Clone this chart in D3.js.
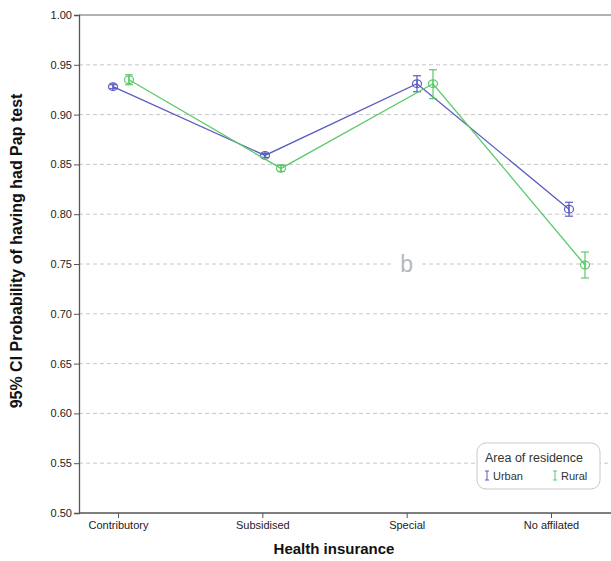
<!DOCTYPE html>
<html><head><meta charset="utf-8">
<script src="https://cdn.jsdelivr.net/npm/d3@7"></script>
<style>body{margin:0;background:#fff}svg{display:block}text{font-family:Arial,"Liberation Sans",sans-serif}</style>
</head><body>
<svg id="c" width="611" height="561"></svg>
<script>
const categories = ["Contributory", "Subsidised", "Special", "No affilated"];
const seriesNames = ["Urban", "Rural"];
const urbanMean = [0.928, 0.859, 0.931, 0.805];
const urbanLow  = [0.926, 0.857, 0.923, 0.798];
const urbanHigh = [0.930, 0.861, 0.939, 0.812];
const ruralMean = [0.935, 0.846, 0.931, 0.749];
const ruralLow  = [0.930, 0.843, 0.916, 0.736];
const ruralHigh = [0.940, 0.849, 0.945, 0.762];
const yTicks = [0.50, 0.55, 0.60, 0.65, 0.70, 0.75, 0.80, 0.85, 0.90, 0.95, 1.00];
const colors = {Urban: "#5a5cbf", Rural: "#5cc96a"};

const svg = d3.select("#c");
const L = 79, R = 611, T = 15, B = 513;
const y = d3.scaleLinear().domain([0.5, 1.0]).range([B, T]);
const xTick = d3.scalePoint().domain(categories).range([118, 551]);
const xPt = d3.scalePoint().domain(categories).range([121, 577]);
const offs = {Urban: -8, Rural: 8};

// gridlines
svg.append("g").selectAll("line").data(yTicks.filter(v => v > 0.5 && v < 1)).join("line")
  .attr("x1", L).attr("x2", R).attr("y1", d => y(d)).attr("y2", d => y(d))
  .attr("stroke", "#c8c8c8").attr("stroke-dasharray", "4,3").attr("stroke-width", 1);

// 'b' label
const bx = xTick("Special"), by = y(0.75);
svg.append("rect").attr("x", bx - 12).attr("y", by - 12).attr("width", 24).attr("height", 24).attr("fill", "#fff");
svg.append("text").attr("x", bx).attr("y", by + 8).attr("text-anchor", "middle")
  .attr("font-size", 23).attr("fill", "#b8b8b8").text("b");

// top border
svg.append("line").attr("x1", L).attr("x2", R).attr("y1", T).attr("y2", T).attr("stroke", "#666").attr("stroke-width", 1.2);

// axes
const yAxis = d3.axisLeft(y).tickValues(yTicks).tickFormat(d3.format(".2f")).tickSize(5).tickPadding(2);
const gy = svg.append("g").attr("transform", `translate(${L},0)`).call(yAxis);
const xAxis = d3.axisBottom(xTick).tickSize(5).tickPadding(3);
const gx = svg.append("g").attr("transform", `translate(0,${B})`).call(xAxis);
gx.select(".domain").attr("d", `M${L},0H${R}`);
[gx, gy].forEach(g => {
  g.select(".domain").attr("stroke", "#555").attr("stroke-width", 1.3);
  g.selectAll(".tick line").attr("stroke", "#555");
  g.selectAll(".tick text").attr("font-size", 11).attr("fill", "#222").attr("font-family", "Arial, 'Liberation Sans', sans-serif");
});

// series
const data = {
  Urban: categories.map((c, i) => ({c, m: urbanMean[i], lo: urbanLow[i], hi: urbanHigh[i]})),
  Rural: categories.map((c, i) => ({c, m: ruralMean[i], lo: ruralLow[i], hi: ruralHigh[i]}))
};
seriesNames.forEach(s => {
  const col = colors[s], dx = offs[s];
  const px = d => xPt(d.c) + dx;
  svg.append("path").datum(data[s])
    .attr("d", d3.line().x(px).y(d => y(d.m)))
    .attr("fill", "none").attr("stroke", col).attr("stroke-width", 1.3);
  const g = svg.append("g").attr("stroke", col).attr("stroke-width", 1.2).attr("fill", "none");
  data[s].forEach(d => {
    g.append("line").attr("x1", px(d)).attr("x2", px(d)).attr("y1", y(d.lo)).attr("y2", y(d.hi));
    g.append("line").attr("x1", px(d) - 4).attr("x2", px(d) + 4).attr("y1", y(d.lo)).attr("y2", y(d.lo));
    g.append("line").attr("x1", px(d) - 4).attr("x2", px(d) + 4).attr("y1", y(d.hi)).attr("y2", y(d.hi));
    g.append("ellipse").attr("cx", px(d)).attr("cy", y(d.m)).attr("rx", 4.5).attr("ry", 3.8).attr("fill", "none");
    g.append("line").attr("x1", px(d)).attr("x2", px(d)).attr("y1", y(d.m) - 4).attr("y2", y(d.m) + 4);
  });
});

// axis titles
svg.append("text").attr("transform", `translate(22,251) rotate(-90)`)
  .attr("text-anchor", "middle").attr("font-size", 16).attr("font-weight", "bold").attr("fill", "#111")
  .text("95% CI Probability of having had Pap test");
svg.append("text").attr("x", 334).attr("y", 554).attr("text-anchor", "middle")
  .attr("font-size", 15).attr("font-weight", "bold").attr("fill", "#111").text("Health insurance");

// legend
const lg = svg.append("g");
lg.append("rect").attr("x", 477).attr("y", 443).attr("width", 123).attr("height", 46).attr("rx", 9)
  .attr("fill", "#fff").attr("stroke", "#c8c8c8");
lg.append("text").attr("x", 485).attr("y", 462).attr("font-size", 12.5).attr("fill", "#333").text("Area of residence");
[["Urban", 487], ["Rural", 555]].forEach(([s, x0]) => {
  const m = lg.append("g").attr("stroke", colors[s]).attr("stroke-width", 1);
  m.append("line").attr("x1", x0).attr("x2", x0).attr("y1", 471).attr("y2", 480);
  m.append("line").attr("x1", x0 - 2).attr("x2", x0 + 2).attr("y1", 471).attr("y2", 471);
  m.append("line").attr("x1", x0 - 2).attr("x2", x0 + 2).attr("y1", 480).attr("y2", 480);
  lg.append("text").attr("x", x0 + 6).attr("y", 480).attr("font-size", 11).attr("fill", "#333").text(s);
});
</script>
</body></html>
